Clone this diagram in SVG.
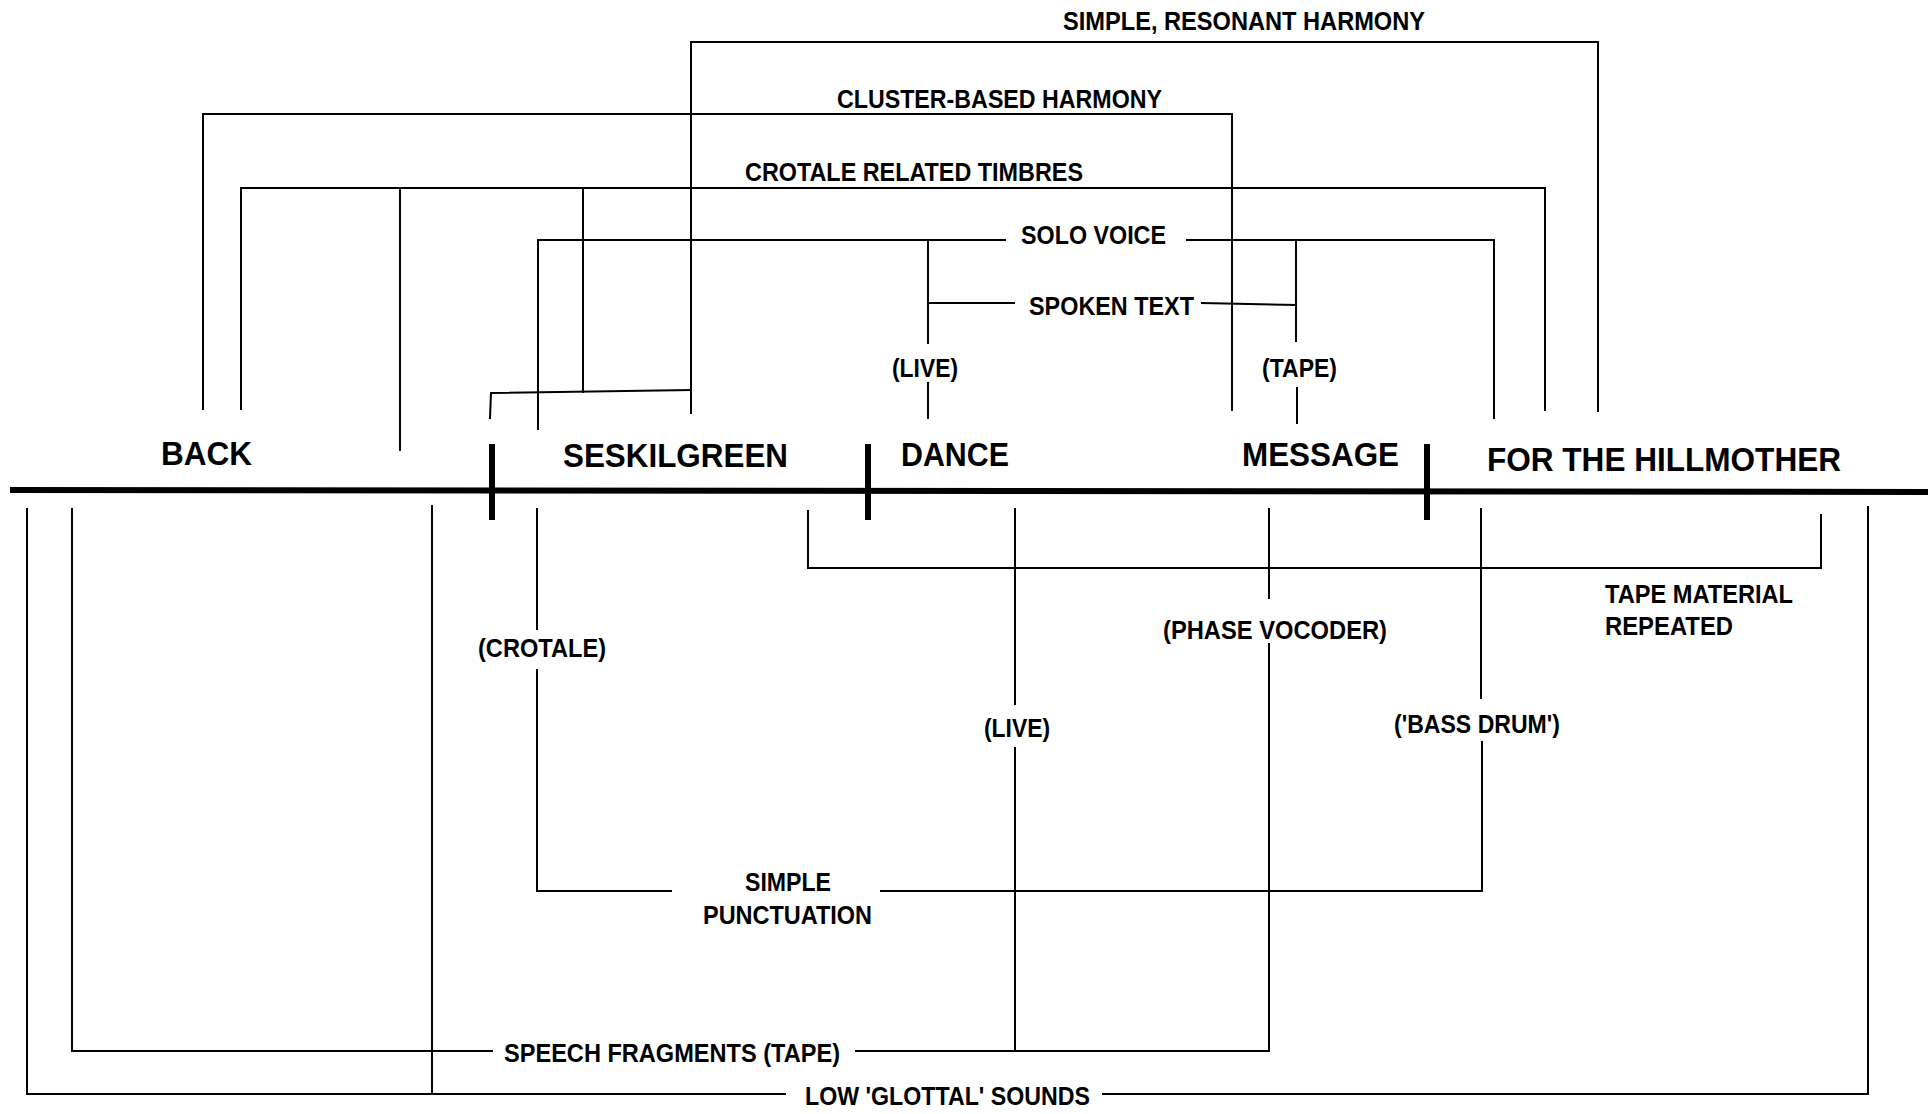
<svg xmlns="http://www.w3.org/2000/svg" width="1928" height="1114" viewBox="0 0 1928 1114">
<style>
.bg{fill:#ffffff}
.ln{fill:none;stroke:#000;stroke-width:2;stroke-linecap:square;stroke-linejoin:miter}
.axis{fill:none;stroke:#000;stroke-width:6}
.tick{fill:none;stroke:#000;stroke-width:6}
.ttl{font-family:"Liberation Sans",Arial,Helvetica,sans-serif;font-weight:bold;font-size:33px;fill:#000}
.lbl{font-family:"Liberation Sans",Arial,Helvetica,sans-serif;font-weight:bold;font-size:26px;fill:#000}
</style>
<rect class="bg" x="0" y="0" width="1928" height="1114"/>
<g id="connectors">
<path class="axis" d="M10,490 L1928,492"/>
<path class="tick" d="M492,444 V520 M868,444 V520 M1427,444 V520"/>
<path class="ln" d="M691,413 V42 H1598 V411"/>
<path class="ln" d="M203,409 V114 H1232 V410"/>
<path class="ln" d="M241,409 V188 H1545 V410 M400,188 V450 M583,188 V392"/>
<path class="ln" d="M490,418 L491,393 L691,390"/>
<path class="ln" d="M538,429 V240 H1005 M1187,240 H1494 V418"/>
<path class="ln" d="M928,240 V343 M928,383 V418 M1296,240 V341 M1297,388 V423"/>
<path class="ln" d="M928,303 H1014 M1202,303 L1296,305"/>
<path class="ln" d="M808,511 V568 H1821 V515"/>
<path class="ln" d="M27,509 V1094 H785 M1103,1094 H1868 V507 M432,506 V1094"/>
<path class="ln" d="M72,509 V1051 H492 M856,1051 H1269 V644 M1269,598 V509"/>
<path class="ln" d="M1015,509 V704 M1015,748 V1051"/>
<path class="ln" d="M537,509 V629 M537,670 V891 H671 M881,891 H1482 V742 M1481,698 V509"/>
</g>
<g id="node-back"><text class="ttl" x="161" y="465" textLength="91" lengthAdjust="spacingAndGlyphs">BACK</text></g>
<g id="node-seskilgreen"><text class="ttl" x="563" y="467" textLength="225" lengthAdjust="spacingAndGlyphs">SESKILGREEN</text></g>
<g id="node-dance"><text class="ttl" x="901" y="466" textLength="108" lengthAdjust="spacingAndGlyphs">DANCE</text></g>
<g id="node-message"><text class="ttl" x="1242" y="466" textLength="157" lengthAdjust="spacingAndGlyphs">MESSAGE</text></g>
<g id="node-hillmother"><text class="ttl" x="1487" y="471" textLength="354" lengthAdjust="spacingAndGlyphs">FOR THE HILLMOTHER</text></g>
<g id="label-simple-resonant"><text class="lbl" x="1063" y="30" textLength="362" lengthAdjust="spacingAndGlyphs">SIMPLE, RESONANT HARMONY</text></g>
<g id="label-cluster"><text class="lbl" x="837" y="108" textLength="325" lengthAdjust="spacingAndGlyphs">CLUSTER-BASED HARMONY</text></g>
<g id="label-crotale-timbres"><text class="lbl" x="745" y="181" textLength="338" lengthAdjust="spacingAndGlyphs">CROTALE RELATED TIMBRES</text></g>
<g id="label-solo-voice"><text class="lbl" x="1021" y="244" textLength="145" lengthAdjust="spacingAndGlyphs">SOLO VOICE</text></g>
<g id="label-spoken-text"><text class="lbl" x="1029" y="315" textLength="165" lengthAdjust="spacingAndGlyphs">SPOKEN TEXT</text></g>
<g id="label-live-top"><text class="lbl" x="892" y="377" textLength="66" lengthAdjust="spacingAndGlyphs">(LIVE)</text></g>
<g id="label-tape-top"><text class="lbl" x="1262" y="377" textLength="75" lengthAdjust="spacingAndGlyphs">(TAPE)</text></g>
<g id="label-tape-material"><text class="lbl" x="1605" y="603" textLength="188" lengthAdjust="spacingAndGlyphs">TAPE MATERIAL</text><text class="lbl" x="1605" y="635" textLength="128" lengthAdjust="spacingAndGlyphs">REPEATED</text></g>
<g id="label-crotale"><text class="lbl" x="478" y="657" textLength="128" lengthAdjust="spacingAndGlyphs">(CROTALE)</text></g>
<g id="label-phase-vocoder"><text class="lbl" x="1163" y="639" textLength="224" lengthAdjust="spacingAndGlyphs">(PHASE VOCODER)</text></g>
<g id="label-live-bottom"><text class="lbl" x="984" y="737" textLength="66" lengthAdjust="spacingAndGlyphs">(LIVE)</text></g>
<g id="label-bass-drum"><text class="lbl" x="1394" y="733" textLength="166" lengthAdjust="spacingAndGlyphs">('BASS DRUM')</text></g>
<g id="label-punctuation"><text class="lbl" x="745" y="891" textLength="86" lengthAdjust="spacingAndGlyphs">SIMPLE</text><text class="lbl" x="703" y="924" textLength="169" lengthAdjust="spacingAndGlyphs">PUNCTUATION</text></g>
<g id="label-speech"><text class="lbl" x="504" y="1062" textLength="336" lengthAdjust="spacingAndGlyphs">SPEECH FRAGMENTS (TAPE)</text></g>
<g id="label-glottal"><text class="lbl" x="805" y="1105" textLength="285" lengthAdjust="spacingAndGlyphs">LOW 'GLOTTAL' SOUNDS</text></g>
</svg>
